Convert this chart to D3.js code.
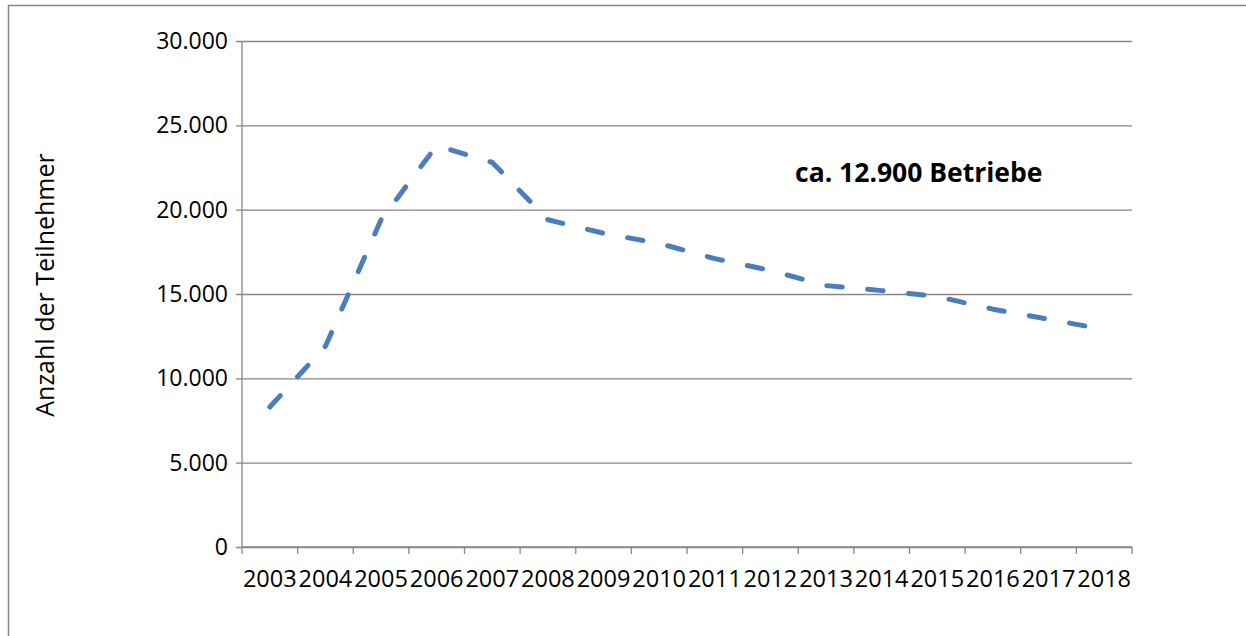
<!DOCTYPE html>
<html lang="de">
<head>
    <meta charset="UTF-8">
    <title>Anzahl der Teilnehmer</title>
    <script src="https://cdn.jsdelivr.net/npm/d3@7"></script>
    <style>
        body { margin: 0; background: #fff; }
        text { font-family: "Open Sans", Lato, sans-serif; fill: #000; }
    </style>
</head>
<body>
<div id="output"></div>

<script>

// data
var years = ["2003", "2004", "2005", "2006", "2007", "2008", "2009", "2010",
             "2011", "2012", "2013", "2014", "2015", "2016", "2017", "2018"];
var teilnehmer = [8300, 11900, 19400, 23800, 22800, 19400, 18600, 18000,
                  17100, 16400, 15500, 15200, 14850, 14100, 13500, 12900];
var yTicks = [0, 5000, 10000, 15000, 20000, 25000, 30000];
var yTitle = "Anzahl der Teilnehmer";
var note = "ca. 12.900 Betriebe";

var w = 1246;
var h = 636;
var pLeft = 242, pRight = 1132, pTop = 41, pBottom = 547;
var grey = "#878787";

var svg = d3.select("#output")
    .append("svg")
    .attr("width", w)
    .attr("height", h);

// chart frame (runs off the right and bottom edge)
svg.append("path")
    .attr("d", "M8.5," + (h + 2) + "V5.5H" + (w + 2))
    .attr("fill", "none")
    .attr("stroke", grey)
    .attr("stroke-width", 1.5);

var x = d3.scaleBand()
    .domain(years)
    .range([pLeft, pRight]);

var y = d3.scaleLinear()
    .domain([0, 30000])
    .range([pBottom, pTop]);

var de = d3.formatLocale({decimal: ",", thousands: ".", grouping: [3], currency: ["", " €"]});
var fmt = de.format(",");

// y axis + gridlines
var yAxis = svg.append("g")
    .attr("transform", "translate(" + pLeft + ",0)")
    .call(d3.axisLeft(y).tickValues(yTicks).tickFormat(fmt).tickSize(-(pRight - pLeft)).tickPadding(14));

yAxis.select(".domain").remove();
yAxis.selectAll(".tick line")
    .attr("x1", -6)
    .attr("stroke", grey)
    .attr("stroke-width", 1.3);
yAxis.selectAll(".tick text")
    .style("font-size", "23px");

yAxis.append("line")
    .attr("y1", pTop)
    .attr("y2", pBottom)
    .attr("stroke", grey)
    .attr("stroke-width", 1.3);

// x axis: labels at band centers, ticks at band edges
var xAxis = svg.append("g")
    .attr("transform", "translate(0," + pBottom + ")")
    .call(d3.axisBottom(x).tickSize(0).tickPadding(23));

xAxis.select(".domain").remove();
xAxis.selectAll(".tick text")
    .style("font-size", "23.5px");

xAxis.append("line")
    .attr("x1", pLeft)
    .attr("x2", pRight)
    .attr("stroke", grey)
    .attr("stroke-width", 1.3);

xAxis.selectAll(".edge")
    .data(years.concat(["end"]))
    .enter()
    .append("line")
        .attr("class", "edge")
        .attr("x1", function(d) { return d == "end" ? pRight : x(d); })
        .attr("x2", function(d) { return d == "end" ? pRight : x(d); })
        .attr("y1", 0)
        .attr("y2", 7)
        .attr("stroke", grey)
        .attr("stroke-width", 1.3);

// the series
var line = d3.line()
    .x(function(d, i) { return x(years[i]) + x.bandwidth() / 2; })
    .y(function(d) { return y(d); });

svg.append("path")
    .datum(teilnehmer)
    .attr("d", line)
    .attr("fill", "none")
    .attr("stroke", "#4a7ebb")
    .attr("stroke-width", 5)
    .attr("stroke-linecap", "round")
    .attr("stroke-linejoin", "round")
    .attr("stroke-dasharray", "15.5,25.5");

// axis title
svg.append("text")
    .attr("transform", "translate(54," + ((pTop + pBottom) / 2 - 9) + ") rotate(-90)")
    .attr("text-anchor", "middle")
    .style("font-size", "25px")
    .text(yTitle);

// note
svg.append("text")
    .attr("x", 795)
    .attr("y", 182)
    .style("font-size", "26.5px")
    .style("font-weight", "bold")
    .text(note);

</script>
</body>
</html>
